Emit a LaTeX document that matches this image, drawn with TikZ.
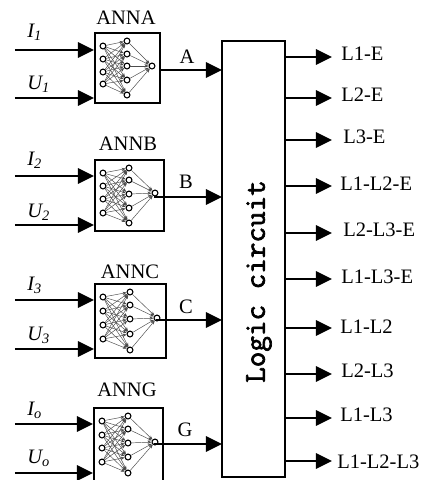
\documentclass[tikz,border=0pt]{standalone}
\usepackage{fontspec}
\setmainfont{Liberation Serif}
\newfontfamily\logicfam[FakeBold=2.2]{Latin Modern Mono}
\usetikzlibrary{arrows.meta,fit}
\newcommand{\labelfont}{\fontsize{15.4}{17}\selectfont}
\newcommand{\logicfont}{\fontsize{22.7}{24}\selectfont\logicfam}
\tikzset{
 every node/.append style={font=\labelfont,text=black,inner sep=0pt},
 annbox/.style={draw=black,fill=white,line width=1.5pt,inner sep=0pt},
 logicbox/.style={draw=black,fill=white,line width=1.7pt,inner sep=0pt},
 neuron/.style={circle,draw=black,fill=white,line width=.8pt,minimum size=4.4pt},
 synapse/.style={-{Stealth[length=3pt,width=2.4pt]},draw=black!70,line width=.35pt},
 flow/.style={-{Triangle[length=12pt,width=11.5pt]},draw=black,line width=1.4pt},
 signal/.style={flow,line width=1.7pt},
 sig/.style={font=\labelfont\itshape,anchor=west},
 title/.style={anchor=center},
}
\newcommand{\annnet}[7]{
  \foreach \a [count=\i] in {#3} {\node[neuron] (#1i\i) at (#2,\a) {};}
  \foreach \b [count=\j] in {#5} {\node[neuron] (#1h\j) at (#4,\b) {};}
  \node[neuron] (#1o) at (#6,#7) {};
  \foreach \i in {1,...,4} {\foreach \j in {1,...,5} {\draw[synapse] (#1i\i) -- (#1h\j);}}
  \foreach \j in {1,...,5} {\draw[synapse] (#1h\j) -- (#1o);}
}

\begin{document}
\begin{tikzpicture}[x=.75pt,y=-.75pt]

\path[use as bounding box,clip] (0,0) rectangle (427,480);

\node[logicbox,fit={(222,41)(285,477)}] (logic) {};
\node[font=\logicfont,rotate=90] (logictext) at (259,281.5) {Logic circuit};

\node[title] (titleA) at (126,18) {ANNA};
\node[annbox,fit={(95,33)(160,103)}] (annA) {};
\annnet{a}{103}{46,59,72,84}{127}{41,54,66,80,95}{152}{66}
\node[title] (titleB) at (128,144) {ANNB};
\node[annbox,fit={(95,160)(164,231)}] (annB) {};
\annnet{b}{103}{173,186,199,213}{129}{168,180,194,208,223}{155}{193}
\begin{scope}
  \clip (90,260) rectangle (170,279);
  \node[title] (titleC) at (130,272) {ANNC};
\end{scope}
\node[annbox,fit={(95,284)(166,358)}] (annC) {};
\annnet{c}{103}{297,311,325,339}{130}{292,305,319,334,350}{157}{318}
\node[title] (titleG) at (127,390) {ANNG};
\node[annbox,fit={(94,408)(163,495)}] (annG) {};
\annnet{g}{102}{421,435,448,462}{128}{416,429,443,457,473}{155}{442}

\foreach \nm/\yi/\yu/\ti/\tu/\sub in {A/50/98/32/84/1,B/176/225/160/212/2,C/300/349/285/335/3,G/424/473/410/458/o}{
  \coordinate (i\nm) at (15,\yi);
  \coordinate (u\nm) at (15,\yu);
  \draw[signal] (i\nm) -- (i\nm -| ann\nm.west);
  \draw[signal] (u\nm) -- (u\nm -| ann\nm.west);
  \node[sig] (li\nm) at (27,\ti) {I\textsubscript{\sub}};
  \node[sig] (lu\nm) at (27,\tu) {U\textsubscript{\sub}};
}

\coordinate (toA) at (222,70);
\coordinate (toB) at (222,197);
\coordinate (toC) at (222,320);
\coordinate (toG) at (222,444);
\draw[flow] (toA -| annA.east) -- (toA);
\draw[flow] (bo) -- (bo |- toB) -- (toB);
\draw[flow] (co) -- (co |- toC) -- (toC);
\draw[flow] (go) -- (go |- toG) -- (toG);
\node (nameA) at (187,57) {A};
\node (nameB) at (186,182) {B};
\node (nameC) at (186,307) {C};
\node (nameG) at (185,430) {G};

\foreach \yy/\txt/\lx/\ly [count=\n] in {57/L1-E/341/54,98/L2-E/341/95,140/L3-E/343/137,186/L1-L2-E/340/184,233/L2-L3-E/343/230,279/L1-L3-E/341/277,328/L1-L2/340/327,374/L2-L3/341/371,418/L1-L3/340/415,461/L1-L2-L3/337/462}{
  \coordinate (tip\n) at (332,\yy);
  \draw[flow] (tip\n -| logic.east) -- (tip\n);
  \node[anchor=west] (fault\n) at (\lx,\ly) {\txt};
}

\end{tikzpicture}
\end{document}
